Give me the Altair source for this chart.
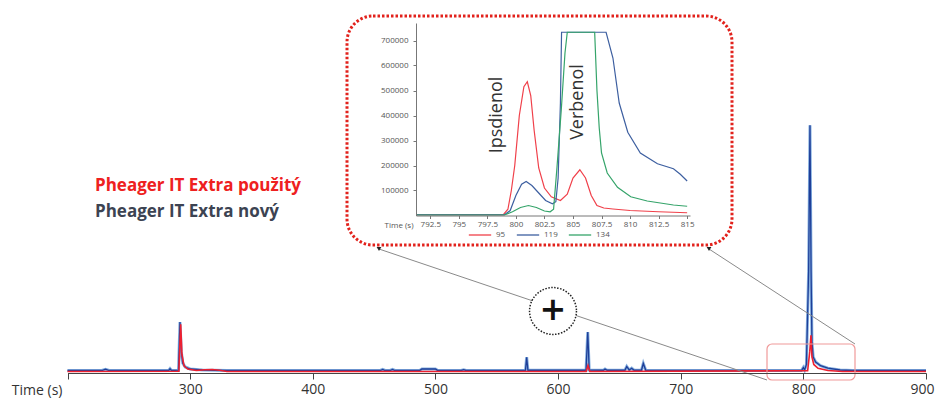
import altair as alt
import pandas as pd

# ---------------- data ----------------
# main chromatogram (relative intensity, %) - "nový" (blue) and "použitý" (red)
main_time_new = [200, 228, 231, 234, 282.5, 283.6, 284.8, 290.5, 291.7, 292.8, 294, 296, 300, 310, 330,
                 455, 457, 459, 463, 465, 467, 487, 489, 500, 502, 521, 523, 525,
                 573.4, 574.4, 575.4, 622.8, 624.2, 625.4, 637, 638.3, 640, 654.5, 656, 658, 660, 662,
                 668, 669.5, 671.5, 700,
                 798.5, 800.0, 801.0, 802.5, 804.3, 805.4, 806.3, 807.0, 808.0, 810.0, 814.0, 820.0,
                 830.0, 840.0, 900]
main_new = [0.6, 0.6, 1.1, 0.6, 0.6, 1.3, 0.6, 0.7, 19.9, 8, 3.5, 2.0, 1.2, 0.8, 0.6,
            0.6, 1.0, 0.6, 0.6, 1.0, 0.6, 0.6, 1.2, 1.2, 0.6, 0.6, 0.9, 0.6,
            0.6, 5.9, 0.7, 0.7, 15.9, 0.8, 0.7, 1.2, 0.7, 0.7, 2.2, 0.8, 1.5, 0.7,
            0.7, 3.4, 0.7, 0.6,
            0.6, 1.8, 0.8, 3.0, 40, 98.3, 40, 12, 6, 4, 2.5, 1.5,
            0.8, 0.6, 0.6]
main_time_used = [200, 290.8, 292.3, 293.3, 295, 298, 305, 312, 318, 324, 330,
                  622.9, 624.4, 625.9, 803.5, 805.2, 806.2, 807.0, 808.5, 812, 820, 832, 900]
main_used = [0.2, 0.3, 19, 7, 2.5, 1.2, 0.6, 0.9, 1.0, 0.7, 0.2,
             0.2, 2.6, 0.2, 0.5, 8, 14.6, 6, 3, 1.5, 0.6, 0.2, 0.2]

# inset: ion traces m/z 95, 119, 134
t95 = [791.25, 798.9, 799.3, 799.6, 799.9, 800.3, 800.7, 801.0, 801.3, 801.6, 802.0, 802.5, 803.1,
       803.9, 804.5, 805.0, 805.6, 806.1, 806.6, 807.1, 807.7, 808.5, 810.0, 812.5, 815.0]
v95 = [3000, 3000, 25000, 100000, 200000, 400000, 515000, 535000, 480000, 340000, 190000, 110000, 75000,
       60000, 85000, 150000, 183000, 150000, 80000, 40000, 30000, 26000, 20000, 15000, 11000]
t119 = [791.25, 799.0, 799.5, 800.0, 800.5, 800.9, 801.4, 802.0, 802.6, 803.2, 803.5, 803.7, 803.9,
        804.0, 807.9, 808.5, 809.05, 809.8, 810.9, 812.4, 813.8, 814.4, 815.0]
v119 = [3000, 3000, 20000, 80000, 125000, 136000, 120000, 90000, 60000, 47000, 55000, 150000, 450000,
        733000, 733000, 630000, 450000, 333000, 250000, 207000, 187000, 165000, 138000]
t134 = [791.25, 799.0, 799.7, 800.4, 801.1, 801.8, 802.5, 803.0, 803.3, 803.6, 803.97, 804.3, 804.5,
        806.9, 807.1, 807.3, 807.5, 808.0, 808.9, 810.06, 811.5, 813.8, 815.0]
v134 = [2000, 2000, 15000, 32000, 40000, 32000, 18000, 15000, 25000, 193000, 420000, 650000, 733000,
        733000, 500000, 350000, 250000, 170000, 113000, 75000, 58000, 42000, 37000]

main_ticks = [200, 300, 400, 500, 600, 700, 800, 900]
inset_xticks = [792.5, 795, 797.5, 800, 802.5, 805, 807.5, 810, 812.5, 815]
inset_yticks = [100000, 200000, 300000, 400000, 500000, 600000, 700000]
ion_labels = ["95", "119", "134"]
series_labels = ["Pheager IT Extra použitý", "Pheager IT Extra nový"]
peak_labels = ["Ipsdienol", "Verbenol"]

# ---------------- tables ----------------
df_new = pd.DataFrame({"t": main_time_new, "v": main_new})
df_used = pd.DataFrame({"t": main_time_used, "v": main_used})
df_ins = pd.concat([
    pd.DataFrame({"t": t95, "v": v95, "ion": "95"}),
    pd.DataFrame({"t": t119, "v": v119, "ion": "119"}),
    pd.DataFrame({"t": t134, "v": v134, "ion": "134"}),
])

FONT = "Open Sans"
W, H = 935, 404

# ---------------- main chromatogram ----------------
XM = alt.Scale(domain=[200, 900], range=[67.5, 926], nice=False, zero=False)
YM = alt.Scale(domain=[0, 100], range=[372, 121], nice=False, zero=False)

main_axis = alt.Axis(
    orient="bottom", offset=-31, values=main_ticks, format="d", zindex=1,
    labelExpr="datum.value == 200 ? '' : datum.label",
    grid=False, domainColor="#444", domainWidth=1.2, tickColor="#444", tickSize=6,
    labelFont=FONT, labelFontSize=14, labelColor="#333", labelPadding=3,
    labelFlush=True, labelFlushOffset=8, labelOverlap=False,
    title="Time (s)", titleX=62, titleY=17, titleAlign="right", titleBaseline="middle",
    titleAngle=0, titleFont=FONT, titleFontSize=14, titleFontWeight="normal", titleColor="#333",
)

new_under = alt.Chart(df_new).mark_line(color="#86b0e0", strokeWidth=3).encode(
    x=alt.X("t:Q", scale=XM, axis=main_axis),
    y=alt.Y("v:Q", scale=YM, axis=None),
)
new_line = alt.Chart(df_new).mark_line(color="#1f3f98", strokeWidth=1.3).encode(
    x=alt.X("t:Q", scale=XM, axis=None),
    y=alt.Y("v:Q", scale=YM, axis=None),
)
used_line = alt.Chart(df_used).mark_line(color="#ee2030", strokeWidth=1.6).encode(
    x=alt.X("t:Q", scale=XM, axis=None),
    y=alt.Y("v:Q", scale=YM, axis=None),
)

# ---------------- decorations ----------------
zoom_box = alt.Chart().mark_rect(fillOpacity=0, stroke="#f09a9a", strokeWidth=1.2, cornerRadius=5).encode(
    x=alt.value(767), x2=alt.value(855), y=alt.value(344), y2=alt.value(380))
conn1 = alt.Chart().mark_rule(color="#8a8a8a", strokeWidth=1).encode(
    x=alt.value(379), y=alt.value(249), x2=alt.value(767), y2=alt.value(380))
conn2 = alt.Chart().mark_rule(color="#8a8a8a", strokeWidth=1).encode(
    x=alt.value(709), y=alt.value(249), x2=alt.value(855), y2=alt.value(344))
arrow1 = alt.Chart().mark_point(shape="triangle-down", filled=True, color="#222", size=22, opacity=1).encode(
    x=alt.value(379), y=alt.value(249))
arrow2 = alt.Chart().mark_point(shape="triangle-down", filled=True, color="#222", size=22, opacity=1).encode(
    x=alt.value(709), y=alt.value(249))
circle = alt.Chart().mark_point(shape="circle", size=2200, filled=True, fill="white", stroke="#222",
                                strokeWidth=1.5, strokeDash=[1.5, 1.5], opacity=1).encode(
    x=alt.value(553), y=alt.value(311))
plus = alt.Chart().mark_text(text="+", font="DejaVu Sans", fontSize=32, fontWeight="bold", color="#111",
                             align="center", baseline="middle").encode(
    x=alt.value(553), y=alt.value(310))
lab_used = alt.Chart().mark_text(text=series_labels[0], font=FONT, fontSize=17, fontWeight="bold",
                                 color="#ee2020", align="left", baseline="middle").encode(
    x=alt.value(95), y=alt.value(186))
lab_new = alt.Chart().mark_text(text=series_labels[1], font=FONT, fontSize=17, fontWeight="bold",
                                color="#3c4352", align="left", baseline="middle").encode(
    x=alt.value(95), y=alt.value(212))
frame = alt.Chart().mark_rect(fill="white", stroke="#e2221c", strokeWidth=3, strokeDash=[2.5, 2],
                              cornerRadius=26).encode(
    x=alt.value(347), x2=alt.value(732), y=alt.value(16), y2=alt.value(245))

# ---------------- inset ----------------
XI = alt.Scale(domain=[791.25, 815.25], range=[416, 690], nice=False, zero=False)
YI = alt.Scale(domain=[0, 770000], range=[215.5, 23], nice=False, zero=False)

inset_lines = alt.Chart(df_ins).mark_line(strokeWidth=1.2).encode(
    x=alt.X("t:Q", scale=XI, axis=alt.Axis(
        orient="bottom", offset=215.5 - H, values=inset_xticks, grid=False, zindex=1,
        labelExpr="datum.value % 1 == 0 ? format(datum.value, 'd') : format(datum.value, '.1f')",
        domainColor="#777", tickColor="#777", tickSize=3, labelFont=FONT, labelFontSize=8,
        labelColor="#555", labelPadding=2, labelFlush=False, labelOverlap=False,
        title="Time (s)", titleX=413, titleY=10, titleAlign="right", titleBaseline="middle",
        titleAngle=0, titleFont=FONT, titleFontSize=8, titleFontWeight="normal", titleColor="#555")),
    y=alt.Y("v:Q", scale=YI, axis=alt.Axis(
        orient="left", offset=-416, values=inset_yticks, format="d", grid=False, zindex=1,
        domainColor="#777", tickColor="#777", tickSize=3, labelFont=FONT, labelFontSize=8,
        labelColor="#555", labelPadding=5, title=None)),
    color=alt.Color("ion:N", scale=alt.Scale(domain=ion_labels, range=["#f0404a", "#3d5fa0", "#35a46a"]),
                    legend=alt.Legend(orient="none", legendX=468, legendY=223, direction="horizontal",
                                      symbolType="stroke", symbolSize=500, symbolStrokeWidth=1.3,
                                      labelFont=FONT, labelFontSize=8, labelColor="#555",
                                      labelOffset=4, columnPadding=8, title=None, padding=0)),
    detail="ion:N",
)

txt_ips = alt.Chart().mark_text(text=peak_labels[0], font=FONT, fontSize=18, color="#333", angle=270,
                                align="center", baseline="middle").encode(x=alt.value(497), y=alt.value(115))
txt_ver = alt.Chart().mark_text(text=peak_labels[1], font=FONT, fontSize=18, color="#333", angle=270,
                                align="center", baseline="middle").encode(x=alt.value(578), y=alt.value(102))

chart = alt.layer(
    new_under, new_line, used_line, zoom_box, conn1, conn2, arrow1, arrow2, circle, plus,
    lab_used, lab_new, frame, inset_lines, txt_ips, txt_ver,
).resolve_scale(
    x="independent", y="independent", color="independent"
).properties(
    width=W, height=H, autosize=alt.AutoSizeParams(type="none"), padding=0, background="white",
).configure_view(strokeWidth=0)

chart.save("out.html", embed_options={"renderer": "svg", "actions": False})
